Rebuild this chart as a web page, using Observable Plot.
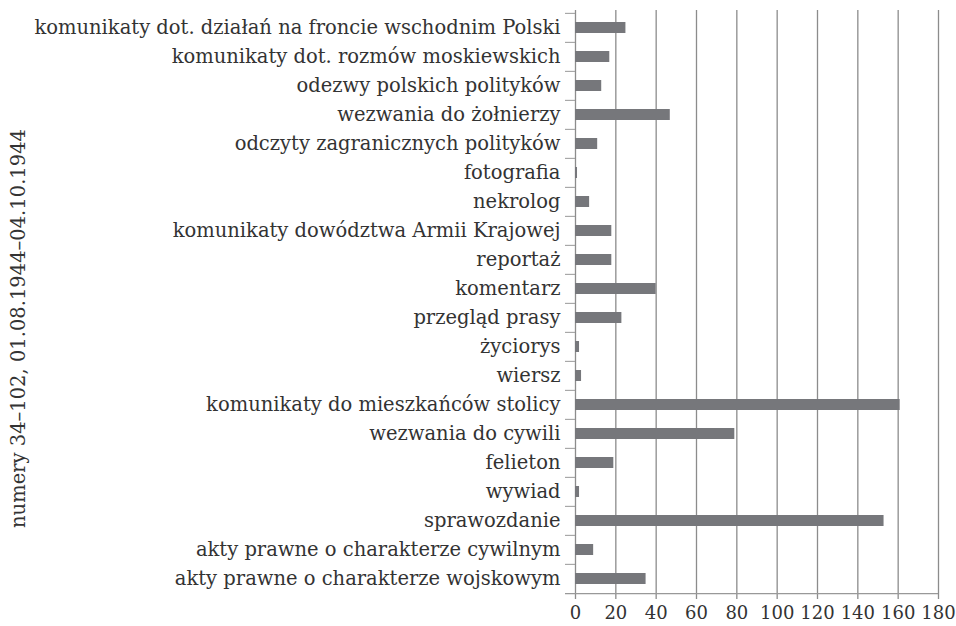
<!DOCTYPE html>
<html>
<head>
<meta charset="utf-8">
<script src="https://cdn.jsdelivr.net/npm/d3@7"></script>
<script src="https://cdn.jsdelivr.net/npm/@observablehq/plot@0.6"></script>
<style>
  html, body { margin: 0; padding: 0; background: #fff; }
  #chart svg { display: block; }
</style>
</head>
<body>
<div id="chart"></div>
<script>
const categories = [
  "komunikaty dot. działań na froncie wschodnim Polski",
  "komunikaty dot. rozmów moskiewskich",
  "odezwy polskich polityków",
  "wezwania do żołnierzy",
  "odczyty zagranicznych polityków",
  "fotografia",
  "nekrolog",
  "komunikaty dowództwa Armii Krajowej",
  "reportaż",
  "komentarz",
  "przegląd prasy",
  "życiorys",
  "wiersz",
  "komunikaty do mieszkańców stolicy",
  "wezwania do cywili",
  "felieton",
  "wywiad",
  "sprawozdanie",
  "akty prawne o charakterze cywilnym",
  "akty prawne o charakterze wojskowym"
];
const values = [25, 17, 13, 47, 11, 1, 7, 18, 18, 40, 23, 2, 3, 161, 79, 19, 2, 153, 9, 35];
const xTicks = [0, 20, 40, 60, 80, 100, 120, 140, 160, 180];
const axisTitle = "numery 34–102, 01.08.1944–04.10.1944";

const data = categories.map((c, i) => ({category: c, value: values[i]}));

const H = 626, mTop = 10, mBottom = 30;
const step = (H - mTop - mBottom) / categories.length;

const chart = Plot.plot({
  width: 956,
  height: H,
  marginLeft: 575,
  marginRight: 18,
  marginTop: mTop,
  marginBottom: mBottom,
  style: {fontFamily: "'DejaVu Serif', serif", color: "#333", background: "#fff", overflow: "visible"},
  x: {domain: [0, 180], ticks: xTicks},
  y: {domain: categories, padding: 0.62, paddingOuter: 0.31, align: 0.5},
  marks: [
    Plot.gridX(xTicks, {stroke: "#8c8c8c", strokeOpacity: 1, strokeWidth: 1.3, insetBottom: -3}),
    Plot.barX(data, {x: "value", y: "category", fill: "#76777b"}),
    Plot.ruleY(categories, {y: d => d, x1: 0, x2: 0, insetLeft: -10, dy: -step / 2, stroke: "#999"}),
    Plot.ruleY([categories[categories.length - 1]], {y: d => d, x1: 0, x2: 180, insetLeft: -10, dy: step / 2, stroke: "#999", strokeWidth: 1.3}),
    Plot.axisX({ticks: xTicks, tickSize: 0, tickPadding: 10, fontSize: 18, label: null, fill: "#333"}),
    Plot.axisY({tickSize: 0, tickPadding: 15, fontSize: 19.5, label: null, fill: "#333"}),
    Plot.text([axisTitle], {frameAnchor: "left", textAnchor: "middle", rotate: -90, dx: -557, dy: 25, fontSize: 19.5, fill: "#333", text: d => d})
  ]
});
document.getElementById("chart").appendChild(chart);
</script>
</body>
</html>
